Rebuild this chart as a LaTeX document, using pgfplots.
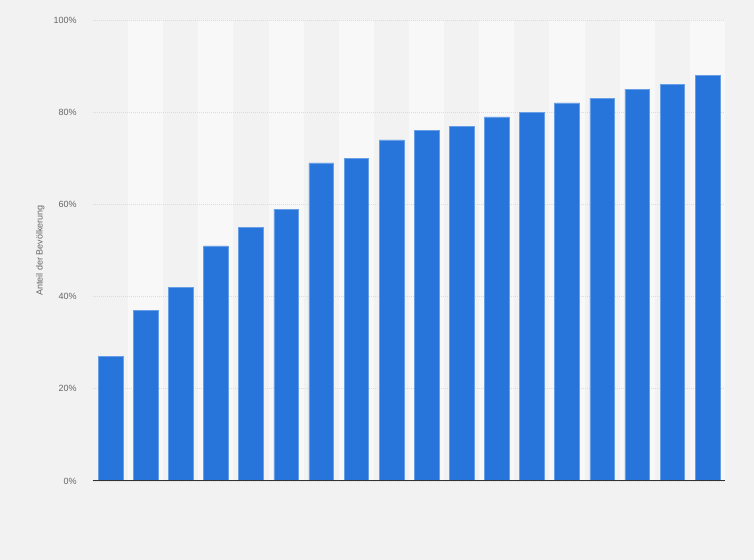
\documentclass[border=0pt]{standalone}
\usepackage{pgfplots}
\pgfplotsset{compat=1.18}
\usepackage{fontspec}
\setmainfont{Liberation Sans}

\definecolor{bgcol}{HTML}{F2F2F2}
\definecolor{bandcol}{HTML}{F8F8F8}
\definecolor{barcol}{HTML}{2775DB}
\definecolor{gridcol}{HTML}{DCDCDC}
\definecolor{labcol}{HTML}{666666}

\begin{document}
\begin{tikzpicture}
% page background, 754x560 px (1px = 0.75pt), axis origin at (93,481) px
\fill[bgcol] (-69.75pt,-59.25pt) rectangle (495.75pt,360.75pt);
% lighter column bands behind every second category (slot = 474pt/18)
\foreach \k in {1,3,...,17}
    \fill[bandcol] ({\k*26.3333pt},0pt) rectangle ({(\k+1)*26.3333pt},345.75pt);
\begin{axis}[
    at={(0pt,0pt)}, anchor=south west,
    scale only axis,
    width=474pt, height=345.75pt,
    xmin=-0.5, xmax=17.5,
    ymin=0, ymax=100,
    xtick=\empty,
    ytick={0,20,40,60,80,100},
    yticklabel={\pgfmathprintnumber{\tick}\%},
    /pgf/number format/assume math mode=true,
    major tick length=0pt,
    axis line style={draw=none},
    ymajorgrids=true,
    grid style={gridcol, line width=0.6pt, dash pattern=on 0.75pt off 0.75pt},
    tick label style={font=\fontsize{6.75}{8}\selectfont, text=labcol},
    yticklabel style={inner sep=0pt, xshift=-12pt},
    ylabel={Anteil der Bevölkerung},
    ylabel style={font=\fontsize{6.75}{8}\selectfont, text=labcol,
        at={(axis description cs:0,0.5)}, anchor=center, yshift=39.5pt},
    ybar, bar width=18.5pt,
]
\addplot[fill=barcol, draw=barcol!70!white, line width=0.4pt] coordinates {
    (0,27) (1,37) (2,42) (3,51) (4,55) (5,59) (6,69) (7,70) (8,74)
    (9,76) (10,77) (11,79) (12,80) (13,82) (14,83) (15,85) (16,86) (17,88)
};

\draw[black!80, line width=0.9pt] (axis cs:-0.5,0) -- (axis cs:17.5,0);
\end{axis}
\end{tikzpicture}
\end{document}
